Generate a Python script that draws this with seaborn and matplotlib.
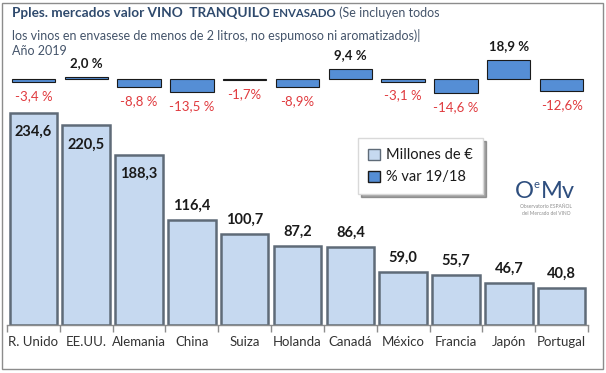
import matplotlib
matplotlib.use("Agg")
import matplotlib.pyplot as plt
from matplotlib.patches import Patch, Rectangle
import numpy as np
import pandas as pd
import seaborn as sns

paises = ["R. Unido", "EE.UU.", "Alemania", "China", "Suiza", "Holanda",
          "Canadá", "México", "Francia", "Japón", "Portugal"]
millones = [234.6, 220.5, 188.3, 116.4, 100.7, 87.2, 86.4, 59.0, 55.7, 46.7, 40.8]
var_pct = [-3.4, 2.0, -8.8, -13.5, -1.7, -8.9, 9.4, -3.1, -14.6, 18.9, -12.6]
var_txt = ["-3,4 %", "2,0 %", "-8,8 %", "-13,5 %", "-1,7%", "-8,9%",
           "9,4 %", "-3,1 %", "-14,6 %", "18,9 %", "-12,6%"]

df = pd.DataFrame({"pais": paises, "millones": millones, "var": var_pct})

sns.set_theme(style="white")
plt.rcParams["font.family"] = ["Lato", "DejaVu Sans"]

W, H = 606, 373
fig = plt.figure(figsize=(W / 100, H / 100), dpi=100)
fig.patch.set_facecolor("white")

# zona de trazado en pixeles
x0, x1, y_base, y_top = 7, 588, 325, 20
ax = fig.add_axes([x0 / W, (H - y_base) / H, (x1 - x0) / W, (y_base - y_top) / H])
ax.set_facecolor("none")

sns.barplot(data=df, x="pais", y="millones", ax=ax, color="#c6d9f0",
            width=0.9, edgecolor="#5f6b78", linewidth=1.8, saturation=1)
px_unit = 0.905
ax.set_ylim(0, (y_base - y_top) / px_unit)
ax.set_xlim(-0.5, len(paises) - 0.5)

for i, v in enumerate(millones):
    txt = f"{v:.1f}".replace(".", ",")
    off = -14 if v > 150 else 10
    ax.annotate(txt, (i, v), xytext=(0, off), textcoords="offset points",
                ha="center", va="center", fontsize=10.5, fontweight="bold",
                color="#1a1a1a")

# % variacion en eje secundario, arriba
ax2 = ax.twinx()
sns.barplot(data=df, x="pais", y="var", ax=ax2, color="#558ed5",
            width=0.82, edgecolor="#1a1a1a", linewidth=0.8, saturation=1)
y_pct0 = 78.5
ax2.set_ylim(-(y_base - y_pct0), y_pct0 - y_top)
ax2.set_xlim(-0.5, len(paises) - 0.5)

for i, (v, t) in enumerate(zip(var_pct, var_txt)):
    if v < 0:
        ax2.annotate(t, (i, v), xytext=(0, -10), textcoords="offset points",
                     ha="center", va="center", fontsize=9.5, color="#e03a3e")
    else:
        ax2.annotate(t, (i, v), xytext=(0, 10), textcoords="offset points",
                     ha="center", va="center", fontsize=9.5, fontweight="bold",
                     color="#1a1a1a")

for a in (ax, ax2):
    for s in ("top", "left", "right"):
        a.spines[s].set_visible(False)
    a.set_xlabel("")
    a.set_ylabel("")
    a.set_yticks([])
ax2.spines["bottom"].set_visible(False)
ax2.tick_params(axis="x", bottom=False, labelbottom=False)

ax.spines["bottom"].set_color("#8c8c8c")
ax.spines["bottom"].set_linewidth(1)
ax.set_xticks(np.arange(-0.5, len(paises)), minor=True)
ax.tick_params(axis="x", which="minor", length=5, color="#8c8c8c", width=1,
               bottom=True)
ax.tick_params(axis="x", which="major", length=0, labelsize=9.5,
               labelcolor="#333333", pad=8)

# titulo
tc = "#2f4a6d"
t1 = fig.text(12 / W, 1 - 17 / H, "Pples. mercados valor VINO  TRANQUILO",
              fontsize=9.8, fontweight="bold", color=tc, va="baseline")
t2 = ax2.annotate(" ENVASADO", xy=(1, 0), xycoords=t1, fontsize=8.2,
                  fontweight="bold", color=tc, va="bottom", annotation_clip=False)
ax2.annotate(" (Se incluyen todos", xy=(1, 0), xycoords=t2, fontsize=9,
             color="#44546a", va="bottom", annotation_clip=False)
fig.text(12 / W, 1 - 35 / H,
         "los vinos en envasese de menos de 2 litros, no espumoso ni aromatizados)|",
         fontsize=9, color="#44546a", va="center")
fig.text(12 / W, 1 - 51 / H, "Año 2019", fontsize=9, color="#44546a",
         va="center")

# leyenda
handles = [Patch(facecolor="#c6d9f0", edgecolor="#5f6b78", label="Millones de €"),
           Patch(facecolor="#558ed5", edgecolor="#1a1a1a", label="% var 19/18")]
leg = fig.legend(handles=handles, loc="upper left",
                 bbox_to_anchor=(358 / W, 1 - 138 / H), fontsize=10.5,
                 frameon=True, shadow=True, handlelength=0.8, handleheight=0.8,
                 handletextpad=0.4, labelspacing=0.55, borderpad=0.7,
                 fancybox=False, borderaxespad=0)
leg.get_frame().set_edgecolor("#d9d9d9")
for t in leg.get_texts():
    t.set_color("#1a1a1a")

# logo
lc = "#2e4e7e"
fig.text(515 / W, 1 - 192 / H, "O", fontsize=17, color=lc, va="center")
fig.text(533 / W, 1 - 184 / H, "e", fontsize=8, color=lc, va="center")
fig.text(541 / W, 1 - 192 / H, "Mv", fontsize=17, color=lc, va="center")
fig.text(546 / W, 1 - 207 / H, "Observatorio ESPAÑOL", fontsize=3.5,
         color="#8c8c8c", ha="center", va="center")
fig.text(546 / W, 1 - 213 / H, "del Mercado del VINO", fontsize=3.5,
         color="#8c8c8c", ha="center", va="center")

# marco
fig.patches.append(Rectangle((2 / W, 4 / H), 601 / W, 366 / H,
                             transform=fig.transFigure, fill=False,
                             edgecolor="#8c8c8c", linewidth=1))

fig.savefig("out.png", dpi=100)
